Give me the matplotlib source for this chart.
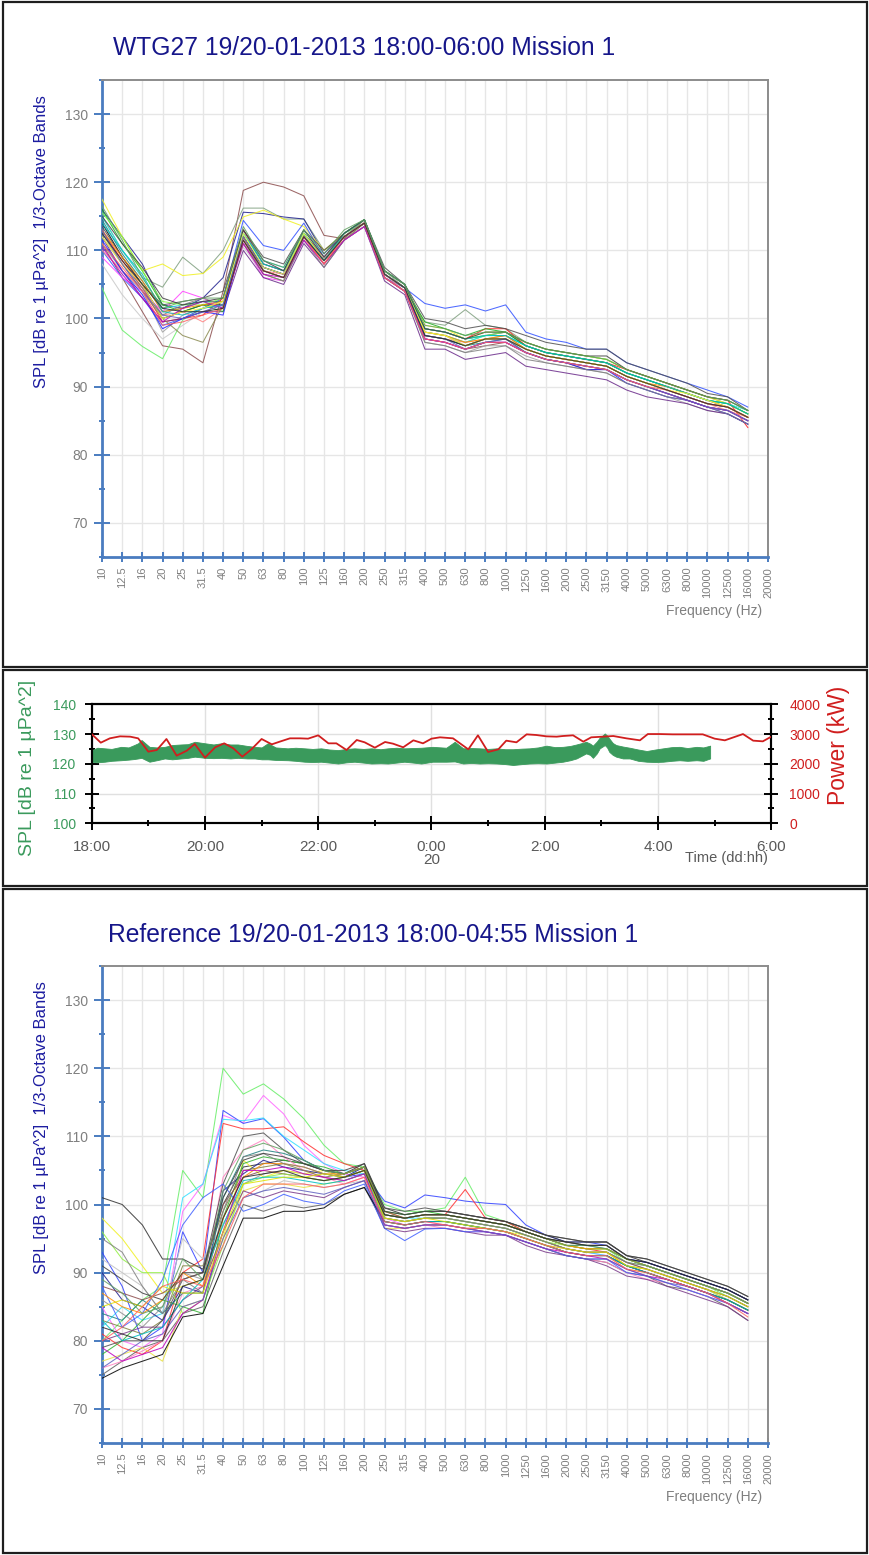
import matplotlib
matplotlib.use("Agg")
import matplotlib.pyplot as plt
from matplotlib.patches import Rectangle
from matplotlib.ticker import FixedLocator

plt.rcParams['font.family'] = ['Liberation Sans', 'DejaVu Sans']

# ---------------------------------------------------------------- data
band_labels = ['10', '12.5', '16', '20', '25', '31.5', '40', '50', '63', '80',
               '100', '125', '160', '200', '250', '315', '400', '500', '630',
               '800', '1000', '1250', '1600', '2000', '2500', '3150', '4000',
               '5000', '6300', '8000', '10000', '12500', '16000', '20000']

# 1/3-octave spectra (dB), bands 10 Hz .. 16 kHz
wtg27_spectra = [
    [111, 106, 101, 96, 95.5, 93.5, 104, 118.8, 120, 119.3, 118, 112.2, 111.7, 114.5, 106, 104, 97, 96.5, 95.5, 96, 96.5, 95, 94, 93.5, 92.5, 92.5, 91, 90, 89, 88, 87, 86.5, 85],
    [104.5, 98.3, 95.9, 94.1, 99.8, 101.5, 102.5, 111, 107, 106, 112, 108.5, 112.5, 114, 106.5, 104.5, 98, 97.5, 96.5, 97.5, 97.5, 96, 95, 94.5, 94, 93.5, 92, 91, 90, 89, 88, 87.5, 86],
    [115, 110, 106, 104.6, 109, 106.6, 110, 116.2, 116.2, 114.6, 114.6, 110, 112, 114.5, 107, 104.5, 99.5, 99, 101.3, 99, 98.5, 96.5, 95.5, 95, 94.5, 94, 92.5, 91.5, 90.5, 89.5, 88.5, 87.5, 86],
    [116, 112, 108, 102, 101.5, 103, 106, 115.6, 115.4, 114.9, 114.6, 109.5, 112.5, 114.5, 106.5, 104.5, 98.5, 98, 97, 97.5, 98, 96, 95, 94.5, 94, 93.5, 92, 91, 90, 89, 88, 87, 85.5],
    [117.5, 112, 107, 108, 106.3, 106.6, 109, 114.9, 115.9, 114.6, 113.5, 110, 112.5, 114.5, 107, 105, 99, 98.5, 97, 98, 98, 96.5, 95.5, 95, 94.5, 94, 92.5, 91.5, 90.5, 89.5, 88.5, 87.5, 86],
    [110, 106, 103, 99, 100, 101.5, 103, 114.4, 110.7, 110, 114, 109, 112, 114, 106, 104.5, 102.2, 101.5, 102, 101.1, 102, 98, 97, 96.5, 95.5, 95.5, 93.5, 92.5, 91.5, 90.5, 89.5, 88.5, 87],
    [109, 106, 104, 101, 104, 103, 101.5, 111, 106, 105.5, 111.5, 108, 111.5, 113.5, 106, 104, 97, 96.5, 95.5, 96.5, 96.5, 95, 94, 93.5, 93, 92.5, 91, 90, 89, 88, 87, 86.5, 85],
    [114, 109, 105, 100, 101, 102, 102, 112, 107.5, 106.5, 112.5, 108.5, 112, 114, 106.5, 104.5, 97.5, 97, 96, 97, 97, 95.5, 94.5, 94, 93.5, 93, 91.5, 90.5, 89.5, 88.5, 87.5, 87, 85.5],
    [111, 107, 104, 98, 100.5, 101.5, 102, 111.5, 107, 106, 112, 108, 111.5, 114, 106, 104, 96.5, 96, 95, 96, 96, 94.5, 93.5, 93, 92.5, 92, 90.5, 89.5, 88.5, 87.5, 86.5, 86, 84.5],
    [113, 108.5, 104.5, 99.5, 100, 100.5, 103, 113, 108, 107, 112.5, 109, 112.5, 114.5, 107, 105, 98.5, 98, 97, 98.5, 98.5, 96, 95, 94.5, 94, 93.5, 92.5, 91.5, 90.5, 89.5, 88.5, 88, 84],
    [115, 110, 106, 101.5, 102, 102.5, 101.5, 112.5, 108.5, 107.5, 113, 109, 112.5, 114.5, 107, 105, 98, 97.5, 96.5, 97.5, 97.5, 96, 95, 94.5, 94, 93.5, 92, 91, 90, 89, 88, 87.5, 86.5],
    [112, 107, 103, 99.5, 100, 101, 101, 110, 106, 105, 111, 107.5, 111.5, 113.5, 105.5, 103.5, 95.5, 95.5, 94, 94.5, 95, 93, 92.5, 92, 91.5, 91, 89.5, 88.5, 88, 87.5, 86.5, 86, 84.5],
    [113.5, 109, 105, 102, 102.5, 103, 104, 113, 109, 108, 113, 110, 112.5, 114.5, 107.5, 105, 100, 99.5, 98.5, 99, 98.5, 97.5, 96.5, 96, 95.5, 95.5, 93.5, 92.5, 91.5, 90.5, 89, 88.5, 86.5],
    [116, 111, 107, 102, 101, 102, 101, 112, 107.5, 106.5, 112.5, 108.5, 112, 114, 106.5, 104.5, 99.5, 98.5, 97.5, 98.5, 98, 96, 95, 94.5, 94, 93.5, 92, 91, 90, 89, 88, 87.5, 86],
    [110, 107, 104.5, 100.5, 101, 99.5, 101.5, 111.5, 107, 106.5, 112, 109, 112, 114, 106.5, 104, 97.5, 97, 96.5, 97, 97, 95.5, 94.5, 94, 93.5, 93, 91.5, 90.5, 89.5, 88.5, 87.5, 86.5, 85.5],
    [108, 103.5, 100, 97, 99, 101, 102, 110.5, 106.5, 105.5, 111.5, 108, 111.5, 113.5, 106, 104, 97, 96.5, 95.5, 96.5, 96.5, 95, 94, 93.5, 93, 92.5, 91, 90, 89, 88, 87, 86.5, 85],
    [114.5, 109.5, 105.5, 101, 101.5, 102.5, 102.5, 112.5, 108, 107, 112.5, 108.5, 112, 114, 106.5, 104.5, 97.5, 97, 96, 96.5, 97, 95, 94, 93.5, 93, 92.5, 91, 90, 89, 88, 87, 86.5, 85],
    [112.5, 108, 104, 100, 97.5, 96.5, 102, 111, 106.5, 105.5, 112, 108, 111.5, 114, 106, 104, 98, 97.5, 96, 97, 97.5, 95.5, 94.5, 94, 93.5, 93, 91.5, 90.5, 89.5, 88.5, 87.5, 87, 85.5],
    [111.5, 107, 103.5, 98.5, 100, 101, 100.5, 112, 107.5, 106.5, 112, 108.5, 112, 114, 106.5, 104.5, 97, 96.5, 95.5, 96.5, 96.5, 95, 94, 93.5, 92.5, 92.5, 90.5, 89.5, 88.5, 88, 87, 86, 84.5],
    [115.5, 112, 107, 102.5, 102, 102, 103, 112, 107, 106, 112.5, 108.5, 112.5, 114.5, 107, 105, 98.5, 98, 97, 97.5, 98, 96.5, 95.5, 95, 94.5, 94, 92.5, 91.5, 90.5, 89.5, 88.5, 88, 86.5],
    [113, 109, 105.5, 101, 101.5, 102, 102.5, 112, 107, 106, 112, 108, 112, 114, 106.5, 104.5, 98, 97.5, 96.5, 97, 97.5, 95.5, 94.5, 94, 93.5, 93, 91.5, 90.5, 90, 89, 88, 87, 85.5],
    [112, 108, 104.5, 100.5, 102, 103, 102, 111.5, 106.5, 105.5, 111.5, 107.5, 111.5, 113.5, 106, 104, 96.5, 96, 95, 95.5, 96, 94, 93.5, 93, 92.5, 92, 90.5, 89.5, 88.5, 88, 87, 86, 84.5],
    [114, 110, 106.5, 101, 100.5, 101.5, 102, 112.5, 108, 107, 112.5, 108.5, 112.5, 114.5, 107, 105, 98.5, 98, 97, 97.5, 97.5, 96, 95, 94.5, 94, 93.5, 92, 91, 90, 89, 88, 87.5, 86],
    [110.5, 106.5, 103, 99.5, 101.5, 102.5, 101.5, 111, 106.5, 106, 111.5, 108, 111.5, 113.5, 106, 104, 97, 96.5, 95.5, 96.5, 96.5, 95, 94, 93.5, 93, 92.5, 91, 90, 89, 88, 87, 86.5, 85],
    [115, 111, 107.5, 103, 102, 102.5, 103, 113, 108.5, 107, 113, 109, 112.5, 114.5, 107, 105, 98.5, 98, 97, 98, 98, 96.5, 95.5, 95, 94.5, 94.5, 92.5, 91.5, 90.5, 89.5, 88.5, 88, 86.5],
    [112, 108, 105, 100, 101, 101.5, 102.5, 112.5, 107.5, 106.5, 112.5, 108.5, 112, 114, 106.5, 104.5, 98, 97.5, 96, 97, 97, 95.5, 94.5, 94, 93.5, 93, 91.5, 90.5, 89.5, 89, 88, 87, 85.5],
    [113, 108, 104, 100.5, 100, 101, 102, 112, 107, 106, 112, 108.5, 112, 114, 106.5, 104.5, 97.5, 97, 95.5, 96.5, 97, 95, 94, 93.5, 93, 92.5, 91, 90, 89, 88, 87, 86.5, 85],
    [116.5, 111.5, 106, 101.5, 102.5, 103, 103, 113.5, 108.5, 107.5, 113, 109.5, 113, 114.5, 107, 105, 99, 98.5, 97.5, 98, 98, 96.5, 95.5, 95, 94.5, 94, 92.5, 91.5, 90.5, 89.5, 88.5, 88, 86.5],
    [111, 107.5, 104, 99, 99.5, 100.5, 101.5, 111.5, 107, 106, 112, 108, 112, 114, 106, 104, 97, 96.5, 95.5, 96.5, 96.5, 95, 94, 93.5, 93, 92.5, 91, 90, 89.5, 88.5, 87.5, 87, 85.5],
    [112.5, 108.5, 105, 101.5, 101, 101, 101.5, 111.5, 107, 106, 112, 108.5, 112, 114, 106.5, 104.5, 97.5, 97, 96, 97, 97, 95.5, 94.5, 94, 93.5, 93, 91.5, 90.5, 89.5, 88.5, 87.5, 87, 85.5],
]
wtg27_colors = ['#8b4c4c', '#66ee66', '#7f9f7f', '#20208f', '#f0f020', '#3050ff',
                '#ff40ff', '#000000', '#a0a0a0', '#ff2020', '#20e0e0', '#6a2a8a',
                '#505050', '#20b020', '#ff8080', '#c8c8c8', '#208080', '#8a8a50',
                '#2020ff', '#80ff40', '#ff8c00', '#808080', '#00c0c0', '#c000c0',
                '#404040', '#ffff40', '#6060c0', '#60a060', '#ff6060', '#2a2a2a']

reference_spectra = [
    [80, 83, 86, 88, 105, 101, 120, 116.2, 117.7, 115.5, 112.6, 108.7, 106, 105.5, 100, 99, 99, 99.5, 104, 98.5, 97.5, 96, 95, 94, 93.5, 93.5, 91.5, 91, 90, 89, 88, 86.5, 85],
    [85, 80, 79, 81, 99, 103, 113.1, 112, 116, 113.3, 108.7, 106, 104.5, 104, 98, 97, 97.5, 97, 96.5, 96.5, 96, 95, 94, 93.5, 93, 92.5, 91, 90.5, 89.5, 88.5, 87.5, 86, 84.5],
    [93, 88, 80, 82, 96, 90, 113.8, 111.9, 112.6, 109.9, 106.5, 105, 104, 104.5, 100.5, 99.5, 101.4, 101, 100.5, 100.2, 100, 97, 95.5, 94.5, 94.5, 94, 92, 91.5, 90.5, 89.5, 88.5, 87.5, 86],
    [81, 79, 78, 80, 90, 92, 111.9, 111.1, 111.1, 111.4, 109.2, 107.2, 106, 105, 99, 98, 98.5, 98.5, 102.2, 98, 97.5, 96, 95, 94, 93.5, 93, 91, 90, 89, 88, 87, 85.5, 84],
    [82, 85, 83, 84, 101, 103, 112.5, 112.3, 112.7, 110, 108, 106, 105, 104.5, 98.5, 98, 98, 98, 97.5, 97, 96.5, 95.5, 94.5, 93.5, 93, 92.5, 91, 90.5, 89.5, 88.5, 87.5, 86, 84.5],
    [101, 100, 97, 92, 92, 90.5, 100, 105.5, 106, 106.5, 106, 105, 104.5, 106, 99.5, 98.5, 99, 99, 98.5, 98, 97.5, 96.5, 95.5, 94.5, 94.5, 94.5, 92.5, 91.5, 90.5, 89.5, 88.5, 87.5, 86],
    [86, 84, 82, 85, 90, 89, 97, 103, 104.5, 105, 104.5, 104, 103.5, 104.5, 98, 97.5, 98, 98, 97.5, 97, 96.5, 95.5, 94.5, 93.5, 93, 93, 91.5, 90.5, 89.5, 88.5, 87.5, 86.5, 85],
    [75, 77, 79, 80, 84, 85, 93, 100, 99, 100, 99.5, 100, 101.5, 102.5, 97, 96.5, 97, 97, 96.5, 96, 95.5, 94.5, 93.5, 92.5, 92, 91.5, 90, 89.5, 88, 87.5, 86.5, 85, 83],
    [98, 95, 91, 87, 88, 89, 95, 106.5, 104, 105, 104.5, 105, 104, 105, 97.5, 97, 97.5, 97.5, 97, 96.5, 96, 95.5, 94.5, 93.5, 93, 93, 91, 90.5, 89.5, 88.5, 87.5, 86, 84.5],
    [77, 78, 79, 77, 85, 86, 95, 102, 103, 103, 102.5, 103, 103.5, 104.5, 96.5, 96.5, 97, 97, 96.5, 96.5, 96, 95, 94, 93, 92.5, 92.5, 90.5, 90, 89, 88, 87, 86, 84.5],
    [90, 86, 85, 83, 88, 87, 102, 104.5, 106.5, 105.5, 105, 104.5, 104, 105.5, 98.5, 98, 98.5, 98.5, 98, 97.5, 97, 96, 95, 94.5, 94, 94, 92, 91.5, 90.5, 89.5, 88.5, 87.5, 86],
    [78, 80, 83, 86, 85, 84, 98, 106, 107, 106.5, 106, 105.5, 104.5, 105.5, 99, 98.5, 99, 98.5, 98, 97.5, 97, 96, 95, 94, 93.5, 93.5, 92, 91, 90, 89, 88, 87, 85.5],
    [76, 77, 78.5, 80, 87, 88, 104, 108, 109.5, 107, 105, 104, 103, 104, 97, 96.5, 97, 96.5, 96, 96, 95.5, 94.5, 93.5, 92.5, 92, 91.5, 90, 89, 88.5, 87.5, 86.5, 85.5, 84],
    [92, 90, 88, 84, 95, 92, 97, 101, 102, 103.5, 103, 102.5, 103, 103.5, 97.5, 97, 97.5, 97.5, 97, 96.5, 96, 95, 94, 93, 92.5, 92.5, 91, 90, 89, 88, 87, 86, 84.5],
    [83, 82, 81, 83, 91, 91, 99, 105, 105.5, 106, 105, 104, 104.5, 105.5, 99, 98, 98.5, 98.5, 98, 97.5, 97, 96, 95, 94.5, 94, 94, 92, 91, 90, 89, 88, 87, 85.5],
    [80, 81, 82, 82, 86, 88, 96, 102, 101, 102, 101.5, 101, 102.5, 103.5, 96.5, 96, 96.5, 96.5, 96, 95.5, 95.5, 94, 93, 92.5, 92, 91, 89.5, 89, 88, 87, 86, 85, 83],
    [88, 87, 86, 87, 89, 90, 100, 104, 105, 104.5, 104, 103.5, 104, 105, 98, 97.5, 98, 98, 97.5, 97, 96.5, 95.5, 94.5, 93.5, 93, 93, 91.5, 90.5, 89.5, 88.5, 87.5, 86.5, 85],
    [84, 83, 86, 84, 87, 87, 101, 107, 108, 107.5, 106.5, 105, 104.5, 105.5, 98.5, 98, 98.5, 98.5, 98, 97.5, 97, 96, 95, 94, 94, 93.5, 92, 91, 90, 89, 88, 87, 85.5],
    [79, 80, 80, 83, 89, 90, 103, 110, 110.5, 108, 106, 105, 104.5, 105.5, 99.5, 99, 99.5, 99, 98.5, 98, 97.5, 96.5, 95.5, 95, 94.5, 94.5, 92.5, 92, 91, 90, 89, 88, 86.5],
    [88, 82, 84, 89, 97, 101, 103, 99, 100, 101.5, 100.5, 100, 102, 103, 96.5, 94.7, 96.4, 96.5, 96, 96, 95.5, 94.5, 93.5, 92.5, 92, 92, 90, 89.5, 88.5, 87.5, 86.5, 85.5, 84],
    [74.5, 76, 77, 78, 83.5, 84, 91, 98, 98, 99, 99, 99.5, 101.5, 102.5, 97.5, 97, 97.5, 97.5, 97, 96.5, 96, 95, 94, 93, 92.5, 92.5, 91, 90, 89, 88, 87, 86, 84.5],
    [96, 92, 90, 90, 84, 86, 94, 103, 104, 104.5, 104, 103.5, 104, 105, 98, 97.5, 98, 98, 97.5, 97, 96.5, 95.5, 94.5, 94, 93.5, 93.5, 92, 91, 90, 89, 88, 87, 85.5],
    [87, 85, 84, 86, 90, 88, 98, 104, 106, 106, 105.5, 104.5, 104.5, 105.5, 98.5, 98, 98.5, 98.5, 98, 97.5, 97, 96, 95, 94, 93.5, 93.5, 92, 91, 90, 89, 88, 87, 85.5],
    [95, 93, 88, 84, 89, 87, 99, 107, 107.5, 106, 105.5, 104.5, 104, 105, 98, 97.5, 98, 98, 97.5, 97, 96.5, 95.5, 94.5, 93.5, 93, 93, 91.5, 91, 90, 89, 88, 87, 85.5],
    [83, 80, 81, 82, 86, 89, 97, 103.5, 104, 104, 103.5, 103, 103.5, 104.5, 97.5, 97, 97.5, 97.5, 97, 96.5, 96, 95, 94, 93, 92.5, 92.5, 91, 90, 89, 88, 87, 86, 84.5],
    [79, 77, 78, 79, 84, 86, 96, 105, 105, 105.5, 104.5, 104, 103.5, 104.5, 97, 96.5, 97, 97, 96.5, 96, 95.5, 94.5, 93.5, 93, 92.5, 92, 90.5, 89.5, 89, 88, 87, 85.5, 84],
    [91, 89, 87, 86, 90, 90, 101, 106.5, 107.5, 107, 106, 105, 105, 106, 99, 98.5, 99, 99, 98.5, 98, 97.5, 96.5, 95.5, 95, 94.5, 94.5, 92.5, 92, 91, 90, 89, 88, 86.5],
    [85, 86, 85, 88, 87, 87, 96, 103, 103.5, 104, 104, 104.5, 104, 105, 98, 97.5, 98, 97.5, 97, 96.5, 96, 95, 94, 93.5, 93, 93, 91, 90.5, 89.5, 88.5, 87.5, 86.5, 85],
    [76, 78, 80, 81, 85, 86, 95, 101, 102, 102.5, 102, 101.5, 102.5, 103.5, 97, 96.5, 97, 97, 96.5, 96, 95.5, 94.5, 93.5, 92.5, 92, 92, 90.5, 89.5, 88.5, 88, 87, 85.5, 84],
    [89, 87, 84, 85, 92, 89, 102, 108, 109, 108, 106.5, 105, 104.5, 105.5, 98.5, 98, 98.5, 98.5, 98, 97.5, 97, 96, 95, 94, 94, 93.5, 92, 91, 90, 89, 88, 87, 85.5],
    [80, 82, 85, 88, 89, 88, 94, 101, 103, 103, 103, 102.5, 103, 104, 97.5, 97, 97.5, 97, 96.5, 96.5, 96, 95, 94, 93, 92.5, 92.5, 90.5, 90, 89, 88, 87, 85.5, 83.5],
    [82, 81, 80, 80, 88, 89, 98, 104, 104.5, 105, 104, 103.5, 104, 105, 98.5, 98, 98.5, 98.5, 98, 97.5, 97, 96, 95, 94.5, 94, 94, 92, 91.5, 90.5, 89.5, 88.5, 87.5, 86],
]
reference_colors = ['#66ee66', '#ff66ff', '#3040ff', '#ff3030', '#30e0ff', '#303030',
                    '#909090', '#606060', '#f0f020', '#e8e040', '#20208f', '#30b030',
                    '#ff80c0', '#c0c0c0', '#808040', '#7a3a8a', '#8b4c4c', '#208080',
                    '#505050', '#4060ff', '#000000', '#90f040', '#ff8c00', '#808080',
                    '#00c0c0', '#c000c0', '#404040', '#e0e000', '#6060c0', '#60a060',
                    '#ff6060', '#2a2a2a']

# broadband SPL envelope over the night (hours after 18:00)
spl_hours = [0.00, 0.10, 0.23, 0.35, 0.52, 0.65, 0.75, 0.82, 0.88, 1.02, 1.15, 1.29,
             1.42, 1.58, 1.70, 1.82, 2.00, 2.15, 2.29, 2.45, 2.58, 2.75, 2.88, 3.00,
             3.11, 3.25, 3.46, 3.60, 3.76, 3.90, 4.05, 4.20, 4.35, 4.50, 4.64, 4.80,
             4.94, 5.10, 5.23, 5.38, 5.52, 5.68, 5.82, 6.02, 6.26, 6.41, 6.56, 6.70,
             6.85, 7.00, 7.15, 7.30, 7.44, 7.60, 7.73, 7.88, 8.03, 8.18, 8.32, 8.45,
             8.56, 8.66, 8.73, 8.80, 8.85, 8.92, 8.97, 9.02, 9.06, 9.10, 9.14, 9.20,
             9.26, 9.38, 9.50, 9.65, 9.80, 9.95, 10.09, 10.24, 10.38, 10.52, 10.68,
             10.80, 10.92]
spl_high = [124.6, 125.4, 125.2, 125.0, 125.7, 125.5, 126.3, 126.9, 128.0, 125.7, 125.5, 125.7,
            126.3, 126.5, 126.6, 127.4, 126.9, 126.5, 126.9, 126.5, 126.5, 126.0, 125.7, 125.5,
            126.9, 125.5, 125.2, 125.4, 125.2, 125.0, 125.2, 124.8, 124.6, 125.0, 125.2, 125.0,
            125.2, 124.9, 125.2, 125.4, 125.2, 125.3, 125.4, 125.7, 125.4, 127.4, 125.2, 125.3,
            125.2, 125.0, 125.2, 124.9, 124.9, 125.1, 125.2, 125.5, 126.1, 125.6, 125.7, 126.0,
            126.5, 127.0, 127.4, 126.8, 126.1, 127.5, 128.8, 129.5, 130.2, 129.5, 128.5, 127.0,
            126.3, 125.8, 125.4, 124.8, 124.3, 124.8, 125.2, 125.6, 125.7, 125.3, 125.7,
            125.5, 126.1]
spl_low = [120.7, 120.5, 120.7, 121.0, 121.2, 121.4, 121.6, 121.8, 122.0, 120.7, 121.2, 121.8,
           121.5, 121.8, 122.0, 122.4, 122.0, 121.9, 122.0, 121.8, 122.0, 121.8, 121.8, 121.5,
           121.5, 121.3, 121.2, 121.0, 120.7, 120.6, 120.7, 120.4, 120.1, 120.5, 120.7, 120.4,
           120.1, 120.2, 120.1, 120.4, 120.7, 120.4, 120.1, 120.7, 120.7, 120.8, 120.1, 120.3,
           120.1, 120.2, 120.1, 119.9, 119.6, 119.9, 120.1, 120.2, 120.1, 120.4, 120.7, 121.2,
           121.8, 122.8, 123.5, 123.0, 122.0, 123.5, 125.2, 125.8, 126.3, 125.5, 124.0, 123.0,
           122.4, 121.8, 121.8, 121.0, 120.7, 120.6, 120.7, 121.0, 121.2, 121.0, 121.2,
           121.0, 121.8]

# turbine power (kW)
power_hours = [0.00, 0.16, 0.32, 0.50, 0.68, 0.82, 1.00, 1.15, 1.32, 1.50, 1.68, 1.82,
               2.00, 2.18, 2.34, 2.50, 2.66, 2.82, 3.00, 3.18, 3.32, 3.50, 3.68, 3.82,
               4.00, 4.18, 4.32, 4.50, 4.68, 4.82, 5.00, 5.18, 5.32, 5.50, 5.68, 5.85,
               6.00, 6.15, 6.38, 6.65, 6.82, 7.00, 7.18, 7.32, 7.50, 7.68, 7.85, 8.03,
               8.21, 8.32, 8.50, 8.68, 8.82, 9.03, 9.21, 9.44, 9.68, 9.82, 10.03, 10.26,
               10.50, 10.79, 11.00, 11.18, 11.50, 11.68, 11.85, 12.00]
power_kw = [3000, 2710, 2856, 2923, 2912, 2856, 2408, 2464, 2834, 2274, 2442, 2666,
            2206, 2554, 2688, 2520, 2240, 2486, 2834, 2654, 2744, 2856, 2856, 2845,
            2957, 2688, 2688, 2464, 2800, 2722, 2542, 2733, 2677, 2554, 2789, 2688,
            2845, 2890, 2856, 2486, 2957, 2397, 2486, 2778, 2722, 2990, 2968, 2923,
            2912, 2934, 2957, 2744, 2890, 2912, 2934, 2856, 2789, 3000, 3000, 2990,
            2990, 2990, 2845, 2789, 3000, 2778, 2755, 2912]

time_ticks = [0, 2, 4, 6, 8, 10, 12]
time_labels = ['18:00', '20:00', '22:00', '0:00\n20', '2:00', '4:00', '6:00']

# ---------------------------------------------------------------- figure
W, H = 869, 1555
fig = plt.figure(figsize=(W / 100, H / 100), dpi=100)


def px_axes(left, top, right, bottom):
    return fig.add_axes([left / W, 1 - bottom / H, (right - left) / W, (bottom - top) / H])


def frame(left, top, right, bottom):
    fig.add_artist(Rectangle((left / W, 1 - bottom / H), (right - left) / W, (bottom - top) / H,
                             transform=fig.transFigure, fill=False, ec='#1e1e1e', lw=1.6))


AXIS_BLUE = '#4a7cc0'
GRID = '#e6e6e6'
TICK_GRAY = '#7f7f7f'
TITLE_BLUE = '#16168a'


def spectrum_panel(top, bottom, spectra, colors, title, title_base, label_y):
    ax = px_axes(102, top, 768, bottom)
    xs = list(range(len(band_labels) - 1))
    for vals, c in zip(spectra, colors):
        ax.plot(xs, vals, color=c, lw=0.75, alpha=0.85, zorder=3)
    ax.set_xlim(0, len(band_labels) - 1)
    ax.set_ylim(65, 135)
    ax.xaxis.set_major_locator(FixedLocator(range(len(band_labels))))
    ax.set_xticklabels(band_labels, rotation=90, fontsize=8, color=TICK_GRAY)
    ax.yaxis.set_major_locator(FixedLocator([70, 80, 90, 100, 110, 120, 130]))
    ax.yaxis.set_minor_locator(FixedLocator([65, 75, 85, 95, 105, 115, 125, 135]))
    ax.tick_params(axis='x', direction='inout', length=7.2, width=1.4, color=AXIS_BLUE, pad=3.5)
    ax.tick_params(axis='y', which='major', direction='inout', length=11.5, width=1.4,
                   color=AXIS_BLUE, labelsize=10, labelcolor=TICK_GRAY, pad=4.3)
    ax.tick_params(axis='y', which='minor', direction='inout', length=5, width=1.4, color=AXIS_BLUE)
    ax.grid(True, axis='x', color=GRID, lw=1, zorder=0)
    ax.grid(True, axis='y', which='major', color=GRID, lw=1, zorder=0)
    for s in ('left', 'bottom'):
        ax.spines[s].set_color(AXIS_BLUE)
        ax.spines[s].set_linewidth(2)
    for s in ('top', 'right'):
        ax.spines[s].set_color('#8c8c8c')
        ax.spines[s].set_linewidth(1.4)
    fig.text(title_base[0] / W, 1 - title_base[1] / H, title, fontsize=17.7, color=TITLE_BLUE,
             ha='left', va='baseline')
    fig.text(42 / W, 1 - label_y / H, 'SPL [dB re 1 µPa^2]  1/3-Octave Bands', rotation=90,
             fontsize=12, color='#1c1ca0', ha='center', va='center')
    fig.text(762 / W, 1 - (bottom + 54) / H, 'Frequency (Hz)', fontsize=10, color=TICK_GRAY,
             ha='right', va='center')
    return ax


frame(3, 2, 867, 667)
frame(3, 670, 867, 886)
frame(3, 889, 867, 1553)

spectrum_panel(80, 557, wtg27_spectra, wtg27_colors,
               'WTG27 19/20-01-2013 18:00-06:00 Mission 1', (113, 55), 242)
spectrum_panel(966, 1443, reference_spectra, reference_colors,
               'Reference 19/20-01-2013 18:00-04:55 Mission 1', (108, 941.5), 1128)

# ---------------------------------------------------------------- time series
SPL_GREEN = '#3a9a5c'
POWER_RED = '#d01e1e'

ax = px_axes(91.7, 704.3, 771.3, 823.3)
ax.fill_between(spl_hours, spl_low, spl_high, color=SPL_GREEN, lw=0.6, ec=SPL_GREEN, zorder=2)
ax.set_xlim(0, 12)
ax.set_ylim(100, 140)
ax.xaxis.set_major_locator(FixedLocator(time_ticks))
ax.xaxis.set_minor_locator(FixedLocator([1, 3, 5, 7, 9, 11]))
ax.set_xticklabels(time_labels, linespacing=0.95)
ax.yaxis.set_major_locator(FixedLocator([100, 110, 120, 130, 140]))
ax.yaxis.set_minor_locator(FixedLocator([105, 115, 125, 135]))
ax.tick_params(axis='x', which='major', direction='inout', length=9.4, width=1.4, color='black',
               labelsize=11, labelcolor='#595959', pad=7)
ax.tick_params(axis='x', which='minor', direction='inout', length=5, width=1.4, color='black')
ax.tick_params(axis='y', which='major', direction='inout', length=10, width=1.4, color='black',
               labelsize=10, labelcolor=SPL_GREEN, pad=6.5)
ax.tick_params(axis='y', which='minor', direction='inout', length=5, width=1.4, color='black')
ax.grid(True, which='major', color='#e0e0e0', lw=1, zorder=0)
for s in ax.spines.values():
    s.set_color('black')
    s.set_linewidth(1.5)

axp = ax.twinx()
axp.plot(power_hours, power_kw, color=POWER_RED, lw=1.3, zorder=3)
axp.set_ylim(0, 4000)
axp.yaxis.set_major_locator(FixedLocator([0, 1000, 2000, 3000, 4000]))
axp.yaxis.set_minor_locator(FixedLocator([500, 1500, 2500, 3500]))
axp.tick_params(axis='y', which='major', direction='inout', length=10, width=1.4, color='black',
                labelsize=10, labelcolor=POWER_RED, pad=8)
axp.tick_params(axis='y', which='minor', direction='inout', length=5, width=1.4, color='black')
for s in axp.spines.values():
    s.set_color('black')
    s.set_linewidth(1.5)

fig.text(28 / W, 1 - 768 / H, 'SPL [dB re 1 µPa^2]', rotation=90, fontsize=14,
         color=SPL_GREEN, ha='center', va='center')
fig.text(839 / W, 1 - 745 / H, 'Power (kW)', rotation=90, fontsize=16.5,
         color=POWER_RED, ha='center', va='center')
fig.text(768 / W, 1 - 858 / H, 'Time (dd:hh)', fontsize=10.5, color='#595959',
         ha='right', va='center')

fig.savefig('out.png', dpi=100)
